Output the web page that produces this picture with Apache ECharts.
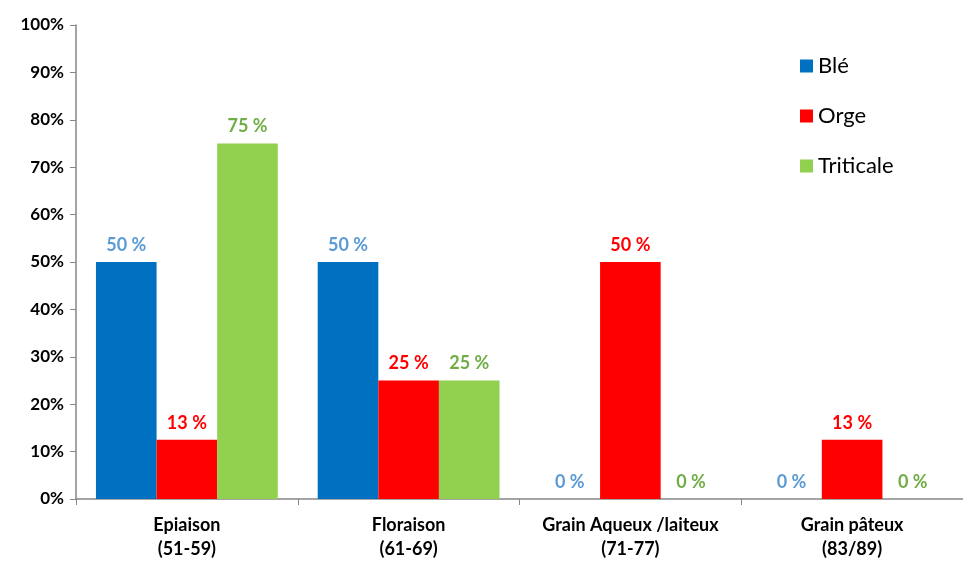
<!DOCTYPE html>
<html>
<head>
<meta charset="utf-8">
<script src="https://cdn.jsdelivr.net/npm/echarts@6/dist/echarts.min.js"></script>
<style>
  html, body { margin: 0; padding: 0; background: #fff; }
  #chart { width: 963px; height: 561px; }
</style>
</head>
<body>
<div id="chart"></div>
<script>
const categories = ['Epiaison\n(51-59)', 'Floraison\n(61-69)', 'Grain Aqueux /laiteux\n(71-77)', 'Grain pâteux\n(83/89)']
const ble = [50, 50, 0, 0]
const orge = [12.5, 25, 50, 12.5]
const triticale = [75, 25, 0, 0]

const font = 'Lato, "Open Sans", sans-serif'

function makeSeries(name, data, color, labelColor) {
  return {
    name: name,
    type: 'bar',
    data: data,
    barGap: 0,
    barCategoryGap: '18%',
    itemStyle: { color: color },
    label: {
      show: true,
      position: 'top',
      distance: 8,
      color: labelColor,
      fontFamily: font,
      fontWeight: 'bold',
      fontSize: 18,
      formatter: p => Math.round(p.value) + ' %'
    }
  }
}

const chart = echarts.init(document.getElementById('chart'))
chart.setOption({
  animation: false,
  textStyle: { fontFamily: font },
  grid: { left: 76, right: 0, top: 25, bottom: 62 },
  legend: {
    orient: 'vertical',
    left: 795,
    top: 50,
    itemWidth: 13,
    itemHeight: 13,
    itemGap: 28,
    icon: 'rect',
    textStyle: { fontSize: 22, color: '#000', fontFamily: font }
  },
  xAxis: {
    type: 'category',
    data: categories,
    axisLine: { lineStyle: { color: '#868686', width: 1.5 } },
    axisTick: { show: true, length: 6, lineStyle: { color: '#868686' } },
    axisLabel: {
      interval: 0,
      hideOverlap: false,
      color: '#000',
      fontWeight: 'bold',
      fontSize: 18,
      lineHeight: 24,
      margin: 14
    }
  },
  yAxis: {
    type: 'value',
    min: 0,
    max: 100,
    interval: 10,
    splitLine: { show: false },
    axisLine: { show: true, lineStyle: { color: '#868686', width: 1.5 } },
    axisTick: { show: true, length: 6, lineStyle: { color: '#868686' } },
    axisLabel: {
      color: '#000',
      fontWeight: 'bold',
      fontSize: 17,
      margin: 12,
      formatter: '{value}%'
    }
  },
  series: [
    makeSeries('Blé', ble, '#0070C0', '#5B9BD5'),
    makeSeries('Orge', orge, '#FF0000', '#FF0000'),
    makeSeries('Triticale', triticale, '#92D050', '#70AD47')
  ]
})
</script>
</body>
</html>
